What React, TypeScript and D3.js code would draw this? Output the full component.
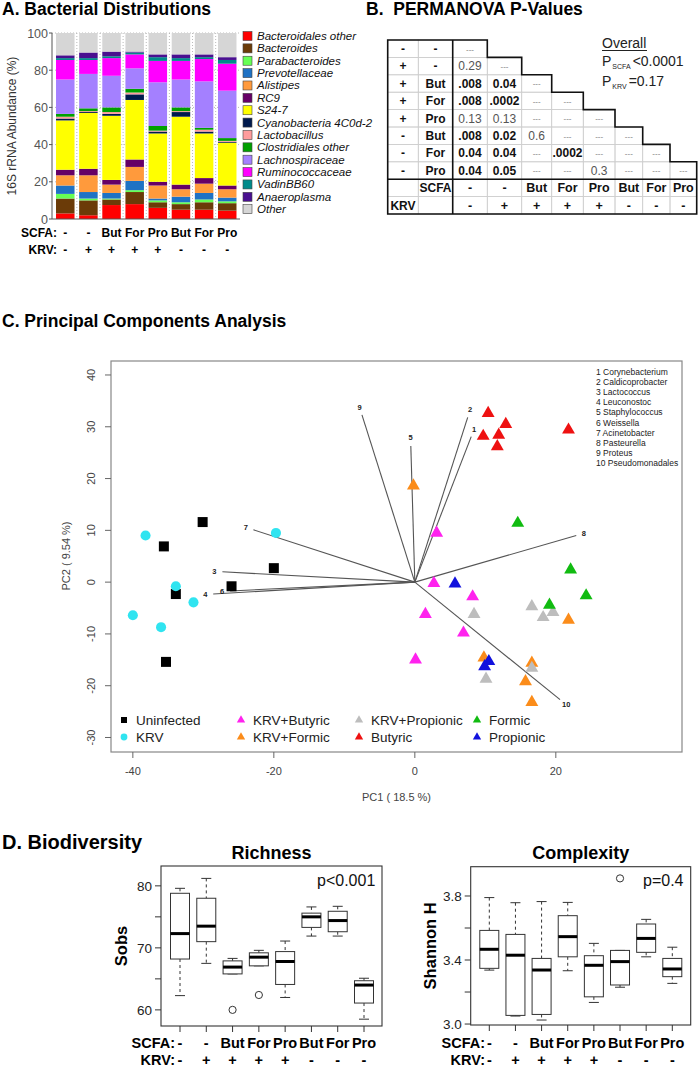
import React from 'react';
import * as d3 from 'd3';

const FONT = "'Liberation Sans', Arial, Helvetica, sans-serif";

// ---------- Panel A data ----------
const groupsSCFA = ['-', '-', 'But', 'For', 'Pro', 'But', 'For', 'Pro'];
const groupsKRV = ['-', '+', '+', '+', '+', '-', '-', '-'];
const taxa = ['Bacteroidales other', 'Bacteroides', 'Parabacteroides', 'Prevotellaceae', 'Alistipes', 'RC9', 'S24-7',
  'Cyanobacteria 4C0d-2', 'Lactobacillus', 'Clostridiales other', 'Lachnospiraceae', 'Ruminococcaceae', 'VadinBB60', 'Anaeroplasma', 'Other'];
const taxaColors = ['#ff0000', '#6b3b08', '#66ff55', '#1f72c4', '#ff9a3c', '#660066', '#ffff00',
  '#001a4d', '#ff9c9c', '#00a000', '#a480ff', '#ff00ff', '#008a8a', '#4a1090', '#d6d6d6'];
const bacteroidalesOther = [3, 2, 7.5, 8, 6, 5, 5, 4.5];
const bacteroides = [8, 8, 3, 6.5, 3, 3, 4, 4];
const parabacteroides = [2.5, 1, 0.5, 1, 1, 1, 1.5, 1];
const prevotellaceae = [4.5, 3.5, 3, 5, 1, 3, 3.5, 2];
const alistipes = [5.5, 9, 4.5, 7.5, 7, 4, 5, 4.5];
const rc9 = [3, 3.5, 2.5, 4, 2, 2.5, 3, 2];
const s247 = [26.5, 30, 34.5, 32, 26, 36.5, 24, 23];
const cyanobacteria = [1, 0.5, 1, 3, 1, 2.5, 1, 0.5];
const lactobacillus = [1, 0.5, 1, 1, 0.5, 0.5, 1, 0.5];
const clostridialesOther = [1.5, 1.5, 2.5, 2, 2.5, 2, 1, 1.5];
const lachnospiraceae = [18.5, 18.5, 17, 11, 23.5, 15, 25, 25.5];
const ruminococcaceae = [10.5, 7.5, 9.5, 7.5, 11.5, 10, 12, 14.5];
const vadinBB60 = [1, 1, 1, 1, 2, 1.5, 1, 2];
const anaeroplasma = [1.5, 3, 2.5, 0.5, 1.5, 2, 1.5, 1.5];
const otherTaxa = [12, 10.5, 10, 10, 11.5, 11.5, 11.5, 13];
const taxonValues = [bacteroidalesOther, bacteroides, parabacteroides, prevotellaceae, alistipes, rc9, s247,
  cyanobacteria, lactobacillus, clostridialesOther, lachnospiraceae, ruminococcaceae, vadinBB60, anaeroplasma, otherTaxa];
const abundanceTicks = [0, 20, 40, 60, 80, 100];

// ---------- Panel B data ----------
const permKRV = ['-', '+', '+', '+', '+', '-', '-', '-'];
const permSCFA = ['-', '-', 'But', 'For', 'Pro', 'But', 'For', 'Pro'];
const permRows = [
  ['---'],
  ['0.29', '---'],
  ['.008', '0.04', '---'],
  ['.008', '.0002', '---', '---'],
  ['0.13', '0.13', '---', '---', '---'],
  ['.008', '0.02', '0.6', '---', '---', '---'],
  ['0.04', '0.04', '---', '.0002', '---', '---', '---'],
  ['0.04', '0.05', '---', '---', '0.3', '---', '---', '---'],
];

// ---------- Panel C data ----------
const uninfectedPC1 = [-30.1, -35.6, -33.9, -26.0, -20.0, -35.3];
const uninfectedPC2 = [11.6, 6.9, -2.3, -0.8, 2.7, -15.4];
const krvPC1 = [-38.2, -19.7, -33.9, -31.4, -40.0, -36.0];
const krvPC2 = [9.0, 9.5, -0.8, -3.9, -6.4, -8.7];
const krvButPC1 = [3.1, 2.7, 8.2, 1.5, 6.9, 0.1];
const krvButPC2 = [9.5, -0.2, -2.8, -6.2, -9.8, -15.0];
const krvForPC1 = [-0.2, 21.8, 9.8, 16.6, 15.7, 16.6];
const krvForPC2 = [18.6, -7.3, -14.6, -15.6, -19.2, -23.2];
const krvProPC1 = [8.4, 16.6, 18.2, 19.6, 16.6, 10.1];
const krvProPC2 = [-6.2, -4.7, -6.8, -5.8, -16.6, -18.7];
const butPC1 = [10.4, 12.9, 9.7, 11.9, 11.7, 21.8];
const butPC2 = [32.6, 30.5, 28.2, 28.4, 26.2, 29.4];
const forPC1 = [14.6, 22.1, 24.3, 19.1];
const forPC2 = [11.4, 2.4, -2.6, -4.4];
const proPC1 = [5.7, 10.5, 9.9];
const proPC2 = [-0.3, -15.3, -16.3];
const vectorNames = ['1 Corynebacterium', '2 Caldicoprobacter', '3 Lactococcus', '4 Leuconostoc', '5 Staphylococcus',
  '6 Weissella', '7 Acinetobacter', '8 Pasteurella', '9 Proteus', '10 Pseudomonadales'];
const vectorIds = ['1', '2', '3', '4', '5', '6', '7', '8', '9', '10'];
const vectorPC1 = [8.0, 7.5, -27.3, -28.6, -0.57, -26.2, -22.9, 22.9, -7.5, 20.6];
const vectorPC2 = [28.1, 31.8, 2.0, -2.3, 26.3, -1.7, 10.1, 9.0, 32.3, -22.7];
const pc1Ticks = [-40, -20, 0, 20];
const pc2Ticks = [-30, -20, -10, 0, 10, 20, 30, 40];

// ---------- Panel D data ----------
const richLow = [62.3, 67.5, 65.8, 67.1, 62.0, 71.9, 71.9, 58.5];
const richQ1 = [68.2, 71.0, 65.8, 67.1, 64.1, 73.3, 72.6, 61.1];
const richMedian = [72.3, 73.5, 66.9, 68.5, 67.8, 75.0, 74.4, 64.0];
const richQ3 = [78.8, 78.0, 67.9, 69.2, 69.4, 75.6, 75.9, 64.7];
const richHigh = [79.6, 81.2, 68.3, 69.6, 71.1, 76.6, 76.7, 65.1];
const richOutliers = [[], [], [60.0], [62.4], [], [], [], []];
const richTicks = [60, 65, 70, 75, 80];
const richLabels = [60, 70, 80];
const cxLow = [3.337, 3.05, 3.025, 3.333, 3.135, 3.23, 3.42, 3.254];
const cxQ1 = [3.348, 3.054, 3.06, 3.42, 3.17, 3.244, 3.448, 3.296];
const cxMedian = [3.467, 3.43, 3.3375, 3.546, 3.367, 3.39, 3.535, 3.344];
const cxQ3 = [3.585, 3.56, 3.41, 3.677, 3.427, 3.46, 3.625, 3.41];
const cxHigh = [3.79, 3.758, 3.765, 3.76, 3.504, 3.46, 3.654, 3.48];
const cxOutliers = [[], [], [], [], [], [3.91], [], []];
const cxTicks = [3.0, 3.2, 3.4, 3.6, 3.8];
const cxLabels = [3.0, 3.4, 3.8];

function PanelA() {
  const idx = d3.range(groupsSCFA.length).map(String);
  const rows = idx.map((_, i) => {
    const r: any = {};
    taxa.forEach((t, k) => { r[t] = taxonValues[k][i]; });
    return r;
  });
  const series = d3.stack().keys(taxa)(rows);
  const x = d3.scaleBand().domain(idx).range([53.7, 238.8]).paddingInner(0.2).paddingOuter(0.1);
  const y = d3.scaleLinear().domain([0, 100]).range([219, 33]);
  const axisX = 52;
  return (
    <g>
      <text x={2} y={15} fontSize={17.5} fontWeight="bold">A. Bacterial Distributions</text>
      {abundanceTicks.filter(t => t > 0).map(t => (
        <line key={'h' + t} x1={axisX} x2={240} y1={y(t)} y2={y(t)} stroke="#aaa" strokeDasharray="1,2" strokeWidth={0.8} />
      ))}
      {idx.slice(1).map(k => {
        const gx = (x(k) as number) - x.step() * 0.1;
        return <line key={'v' + k} x1={gx} x2={gx} y1={y(100)} y2={y(0)} stroke="#aaa" strokeDasharray="1,2" strokeWidth={0.8} />;
      })}
      {series.map((s, k) => (
        <g key={k} fill={taxaColors[k]}>
          {s.map((d, i) => (
            <rect key={i} x={x(idx[i])} width={x.bandwidth()} y={y(d[1])} height={Math.max(0, y(d[0]) - y(d[1]))} />
          ))}
        </g>
      ))}
      <line x1={axisX} x2={axisX} y1={y(100)} y2={y(0)} stroke="#555" />
      <line x1={axisX} x2={240} y1={y(0)} y2={y(0)} stroke="#555" />
      {abundanceTicks.map(t => (
        <g key={t}>
          <line x1={axisX - 3} x2={axisX} y1={y(t)} y2={y(t)} stroke="#555" />
          <text x={axisX - 4} y={y(t) + 4.5} fontSize={12.5} textAnchor="end" fill="#555">{t}</text>
        </g>
      ))}
      <text transform={`translate(16,${(y(0) + y(100)) / 2}) rotate(-90)`} fontSize={12} textAnchor="middle" fill="#333">16S rRNA Abundance (%)</text>
      <text x={57} y={237} fontSize={12} fontWeight="bold" textAnchor="end">SCFA:</text>
      <text x={57} y={254} fontSize={12} fontWeight="bold" textAnchor="end">KRV:</text>
      {idx.map((k, i) => (
        <g key={k}>
          <text x={(x(k) as number) + x.bandwidth() / 2} y={237} fontSize={12} fontWeight="bold" textAnchor="middle">{groupsSCFA[i]}</text>
          <text x={(x(k) as number) + x.bandwidth() / 2} y={254} fontSize={12} fontWeight="bold" textAnchor="middle">{groupsKRV[i]}</text>
        </g>
      ))}
      {taxa.map((t, k) => {
        const ly = 36 + k * 12.37;
        return (
          <g key={t}>
            <rect x={243} y={ly - 4.5} width={9} height={9} fill={taxaColors[k]} stroke="#444" strokeWidth={0.6} />
            <text x={257} y={ly + 4} fontSize={11.5} fontStyle="italic" fill="#111">{t}</text>
          </g>
        );
      })}
    </g>
  );
}

function PanelB() {
  const colW = [30.6, 34.4, 34.6, 34.4, 30, 31.6, 31.7, 27.7, 27.3, 26.7];
  const colX = [387.7];
  colW.forEach(w => colX.push(colX[colX.length - 1] + w));
  const rowH = 17.4;
  const rowY = d3.range(11).map(i => 40 + i * rowH);
  const cx = (c: number) => (colX[c] + colX[c + 1]) / 2;
  const cells: any[] = [];
  const cellRect = (r: number, c: number) => (
    <rect key={`c${r}-${c}`} x={colX[c]} y={rowY[r]} width={colW[c]} height={rowH} fill="none" stroke="#cfcfcf" strokeWidth={0.8} />
  );
  permRows.forEach((row, r) => {
    cells.push(cellRect(r, 0), cellRect(r, 1));
    row.forEach((_, c) => cells.push(cellRect(r, c + 2)));
  });
  for (let r = 8; r < 10; r++) for (let c = 0; c < 10; c++) cells.push(cellRect(r, c));
  const txt = (key: string, xx: number, r: number, s: string, bold: boolean, size = 12, fill = '#111') => (
    <text key={key} x={xx} y={rowY[r] + rowH / 2 + size * 0.36} fontSize={size} fontWeight={bold ? 'bold' : 'normal'} textAnchor="middle" fill={fill}>{s}</text>
  );
  const texts: any[] = [];
  permRows.forEach((row, r) => {
    texts.push(txt(`k${r}`, cx(0), r, permKRV[r], true));
    texts.push(txt(`s${r}`, cx(1), r, permSCFA[r], true));
    row.forEach((v, c) => {
      if (v === '---') texts.push(txt(`v${r}-${c}`, cx(c + 2), r, v, false, 8, '#777'));
      else {
        const p = parseFloat(v);
        const bold = p <= 0.05;
        texts.push(txt(`v${r}-${c}`, cx(c + 2), r, v, bold, 12, bold ? '#111' : '#555'));
      }
    });
  });
  texts.push(txt('hs', cx(1), 8, 'SCFA', true));
  texts.push(txt('hk', cx(0), 9, 'KRV', true));
  permSCFA.forEach((s, c) => texts.push(txt(`hs${c}`, cx(c + 2), 8, s, true, 12.5)));
  permKRV.forEach((s, c) => texts.push(txt(`hk${c}`, cx(c + 2), 9, s, true, 12.5)));
  let path = `M${colX[0]},${rowY[10]} L${colX[0]},${rowY[0]}`;
  for (let r = 0; r < 8; r++) {
    path += ` L${colX[r + 3]},${rowY[r]}`;
    if (r < 7) path += ` L${colX[r + 3]},${rowY[r + 1]}`;
  }
  path += ` L${colX[10]},${rowY[10]} Z`;
  return (
    <g>
      <text x={366} y={15} fontSize={17.5} fontWeight="bold" style={{ whiteSpace: 'pre' }}>B.  PERMANOVA P-Values</text>
      {cells}
      {texts}
      <path d={path} fill="none" stroke="#111" strokeWidth={1.6} />
      <line x1={colX[2]} x2={colX[2]} y1={rowY[0]} y2={rowY[10]} stroke="#111" strokeWidth={1.6} />
      <line x1={colX[0]} x2={colX[10]} y1={rowY[8]} y2={rowY[8]} stroke="#111" strokeWidth={1.6} />
      <text x={602} y={48} fontSize={14} fill="#222">Overall</text>
      <line x1={602} x2={647} y1={50.5} y2={50.5} stroke="#222" strokeWidth={1} />
      <text x={602} y={66} fontSize={14} fill="#222">P<tspan fontSize={7} dy={3} dx={1}>SCFA</tspan><tspan fontSize={14} dy={-3} dx={2}>&lt;0.0001</tspan></text>
      <text x={602} y={86} fontSize={14} fill="#222">P<tspan fontSize={7} dy={3} dx={1}>KRV</tspan><tspan fontSize={14} dy={-3} dx={2}>=0.17</tspan></text>
    </g>
  );
}

function PanelC() {
  const x = d3.scaleLinear().domain([-43.1, 37.9]).range([111, 682]);
  const y = d3.scaleLinear().domain([-32.8, 42.7]).range([752, 361]);
  const tri = d3.symbol(d3.symbolTriangle, 72)() as string;
  const sq = d3.symbol(d3.symbolSquare, 100)() as string;
  const circ = d3.symbol(d3.symbolCircle, 80)() as string;
  const triS = d3.symbol(d3.symbolTriangle, 30)() as string;
  const sqS = d3.symbol(d3.symbolSquare, 36)() as string;
  const circS = d3.symbol(d3.symbolCircle, 36)() as string;
  const groups = [
    { name: 'Uninfected', color: '#000000', shape: sq, small: sqS, pc1: uninfectedPC1, pc2: uninfectedPC2 },
    { name: 'KRV', color: '#30e4f0', shape: circ, small: circS, pc1: krvPC1, pc2: krvPC2 },
    { name: 'KRV+Butyric', color: '#ff22ee', shape: tri, small: triS, pc1: krvButPC1, pc2: krvButPC2 },
    { name: 'KRV+Formic', color: '#fb8c1a', shape: tri, small: triS, pc1: krvForPC1, pc2: krvForPC2 },
    { name: 'KRV+Propionic', color: '#bdbdbd', shape: tri, small: triS, pc1: krvProPC1, pc2: krvProPC2 },
    { name: 'Butyric', color: '#ee1111', shape: tri, small: triS, pc1: butPC1, pc2: butPC2 },
    { name: 'Formic', color: '#11bb11', shape: tri, small: triS, pc1: forPC1, pc2: forPC2 },
    { name: 'Propionic', color: '#1111dd', shape: tri, small: triS, pc1: proPC1, pc2: proPC2 },
  ];
  const legendPos = [[124, 720], [124, 737], [241, 720], [241, 737], [359, 720], [359, 737], [477, 720], [477, 737]];
  const x0 = x(0), y0 = y(0);
  return (
    <g>
      <text x={2} y={327} fontSize={17.5} fontWeight="bold">C. Principal Components Analysis</text>
      <rect x={111} y={361} width={571} height={391} fill="none" stroke="#888" strokeWidth={1.2} />
      {pc2Ticks.map(t => (
        <g key={t}>
          <line x1={105} x2={111} y1={y(t)} y2={y(t)} stroke="#666" />
          <text transform={`translate(95,${y(t)}) rotate(-90)`} fontSize={11} textAnchor="middle" fill="#444">{t}</text>
        </g>
      ))}
      {pc1Ticks.map(t => (
        <g key={t}>
          <line x1={x(t)} x2={x(t)} y1={752} y2={758} stroke="#666" />
          <text x={x(t)} y={775} fontSize={11} textAnchor="middle" fill="#444">{t}</text>
        </g>
      ))}
      <text transform={`translate(70,556) rotate(-90)`} fontSize={11} textAnchor="middle" fill="#444">PC2 ( 9.54 %)</text>
      <text x={396.5} y={801} fontSize={11} textAnchor="middle" fill="#444">PC1 ( 18.5 %)</text>
      {vectorIds.map((id, i) => {
        const ex = x(vectorPC1[i]), ey = y(vectorPC2[i]);
        const dx = ex - x0, dy = ey - y0;
        const len = Math.sqrt(dx * dx + dy * dy);
        const lx = ex + (dx / len) * 8, ly = ey + (dy / len) * 8;
        return (
          <g key={id}>
            <line x1={x0} y1={y0} x2={ex} y2={ey} stroke="#555" strokeWidth={1.1} />
            <text x={lx} y={ly + 2.5} fontSize={7.5} fontWeight="bold" textAnchor="middle" fill="#222">{id}</text>
          </g>
        );
      })}
      {groups.map(g => (
        <g key={g.name} fill={g.color}>
          {g.pc1.map((v, i) => (
            <path key={i} d={g.shape} transform={`translate(${x(v)},${y(g.pc2[i])})`} />
          ))}
        </g>
      ))}
      {groups.map((g, k) => (
        <g key={'l' + g.name}>
          <path d={g.small} fill={g.color} transform={`translate(${legendPos[k][0]},${legendPos[k][1]})`} />
          <text x={legendPos[k][0] + 12} y={legendPos[k][1] + 4.5} fontSize={13.5} fill="#222">{g.name}</text>
        </g>
      ))}
      {vectorNames.map((n, i) => (
        <text key={n} x={596} y={374.5 + i * 10.2} fontSize={8.5} fill="#222">{n}</text>
      ))}
    </g>
  );
}

function BoxPanel(props: any) {
  const { left, right, top, bottom, domain, low, q1, med, q3, high, outliers, ticks, labels, title, ylab, ptext, ptextX, xr, scfaX, ylabX } = props;
  const y = d3.scaleLinear().domain(domain).range([bottom, top]);
  const x = d3.scalePoint().domain(d3.range(8).map(String)).range(xr);
  const bw = 19, cw = 10;
  return (
    <g>
      <text x={(left + right) / 2} y={859} fontSize={18} fontWeight="bold" textAnchor="middle">{title}</text>
      <rect x={left} y={top} width={right - left} height={bottom - top} fill="none" stroke="#333" strokeWidth={1.1} />
      {ticks.map((t: number) => (
        <g key={t}>
          <line x1={left - 6} x2={left} y1={y(t)} y2={y(t)} stroke="#333" />
          {labels.includes(t) && <text x={left - 9} y={y(t) + 5} fontSize={13.5} textAnchor="end" fill="#222">{t.toFixed(domain[1] > 10 ? 0 : 1)}</text>}
        </g>
      ))}
      <text transform={`translate(${ylabX},${(top + bottom) / 2}) rotate(-90)`} fontSize={16.5} fontWeight="bold" textAnchor="middle">{ylab}</text>
      <text x={ptextX} y={886} fontSize={16} fill="#111">{ptext}</text>
      {d3.range(8).map(i => {
        const cx = x(String(i)) as number;
        return (
          <g key={i}>
            <line x1={cx} x2={cx} y1={bottom} y2={bottom + 6} stroke="#333" />
            <line x1={cx} x2={cx} y1={y(high[i])} y2={y(q3[i])} stroke="#333" strokeDasharray="3,3" />
            <line x1={cx} x2={cx} y1={y(q1[i])} y2={y(low[i])} stroke="#333" strokeDasharray="3,3" />
            <line x1={cx - cw / 2} x2={cx + cw / 2} y1={y(high[i])} y2={y(high[i])} stroke="#333" />
            <line x1={cx - cw / 2} x2={cx + cw / 2} y1={y(low[i])} y2={y(low[i])} stroke="#333" />
            <rect x={cx - bw / 2} y={y(q3[i])} width={bw} height={y(q1[i]) - y(q3[i])} fill="#fff" stroke="#333" strokeWidth={1} />
            <line x1={cx - bw / 2} x2={cx + bw / 2} y1={y(med[i])} y2={y(med[i])} stroke="#000" strokeWidth={3} />
            {outliers[i].map((o: number, j: number) => (
              <circle key={j} cx={cx} cy={y(o)} r={3.6} fill="none" stroke="#333" strokeWidth={1} />
            ))}
            <text x={cx} y={1048} fontSize={14.5} fontWeight="bold" textAnchor="middle">{groupsSCFA[i]}</text>
            <text x={cx} y={1065} fontSize={14.5} fontWeight="bold" textAnchor="middle">{groupsKRV[i]}</text>
          </g>
        );
      })}
      <text x={scfaX} y={1048} fontSize={14.5} fontWeight="bold" textAnchor="end">SCFA:</text>
      <text x={scfaX} y={1065} fontSize={14.5} fontWeight="bold" textAnchor="end">KRV:</text>
    </g>
  );
}

function PanelD() {
  return (
    <g>
      <text x={2} y={849} fontSize={20} fontWeight="bold">D. Biodiversity</text>
      <BoxPanel left={161} right={382} top={866} bottom={1026} domain={[57.4, 83.2]}
        low={richLow} q1={richQ1} med={richMedian} q3={richQ3} high={richHigh} outliers={richOutliers}
        ticks={richTicks} labels={richLabels} title="Richness" ylab="Sobs" ptext="p<0.001" ptextX={317}
        xr={[180, 364]} scfaX={175} ylabX={127} />
      <BoxPanel left={470.7} right={690.7} top={866.7} bottom={1025} domain={[2.994, 3.983]}
        low={cxLow} q1={cxQ1} med={cxMedian} q3={cxQ3} high={cxHigh} outliers={cxOutliers}
        ticks={cxTicks} labels={cxLabels} title="Complexity" ylab="Shannon H" ptext="p=0.4" ptextX={643}
        xr={[489.3, 672.3]} scfaX={485} ylabX={436} />
    </g>
  );
}

export default function App() {
  return (
    <svg width={700} height={1069} style={{ position: 'absolute', left: 0, top: 0, background: '#fff' }} fontFamily={FONT}>
      <rect width={700} height={1069} fill="#fff" />
      <PanelA />
      <PanelB />
      <PanelC />
      <PanelD />
    </svg>
  );
}
